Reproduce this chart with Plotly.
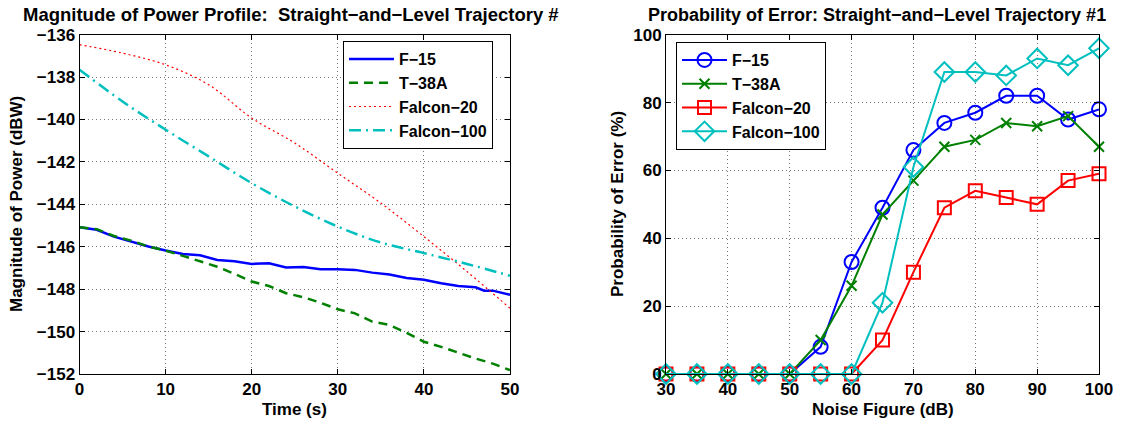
import plotly.graph_objects as go

# ---------------- Left chart data ----------------
t_f15 = [0, 2, 4, 6, 8, 10, 12, 14, 16, 18, 20, 22, 24, 26, 28, 30, 32, 34, 36, 38, 40, 42, 44, 46, 47, 48, 50]
p_f15 = [-145.08, -145.20, -145.52, -145.75, -145.99, -146.18, -146.34, -146.40, -146.62, -146.68, -146.81,
         -146.78, -146.98, -146.96, -147.06, -147.06, -147.09, -147.22, -147.31, -147.47, -147.56, -147.72,
         -147.85, -147.91, -148.07, -148.07, -148.27]
t_t38 = [0, 2, 4, 6, 8, 10, 12, 14, 16, 18, 20, 22, 24, 26, 28, 30, 32, 34, 36, 38, 40, 42, 44, 46, 48, 50]
p_t38 = [-145.08, -145.17, -145.49, -145.71, -145.99, -146.18, -146.43, -146.70, -146.94, -147.28, -147.64,
         -147.85, -148.19, -148.38, -148.64, -148.95, -149.14, -149.53, -149.69, -150.06, -150.48, -150.72,
         -151.00, -151.27, -151.51, -151.82]
t_f20 = [0, 5, 10, 15, 20, 25, 30, 35, 40, 45, 50]
p_f20 = [-136.47, -136.87, -137.42, -138.36, -139.93, -141.11, -142.53, -143.94, -145.52, -147.17, -148.90]
t_f100 = [0, 5, 10, 15, 20, 25, 30, 35, 40, 45, 50]
p_f100 = [-137.65, -139.15, -140.48, -141.74, -143.00, -144.10, -145.05, -145.80, -146.30, -146.81, -147.37]

# ---------------- Right chart data ----------------
noise_fig = [30, 35, 40, 45, 50, 55, 60, 65, 70, 75, 80, 85, 90, 95, 100]
pe_f15 = [0, 0, 0, 0, 0, 8, 33, 49, 66, 74, 77, 82, 82, 75, 78]
pe_t38 = [0, 0, 0, 0, 0, 10, 26, 47, 57, 67, 69, 74, 73, 76, 67]
pe_f20 = [0, 0, 0, 0, 0, 0, 0, 10, 30, 49, 54, 52, 50, 57, 59]
pe_f100 = [0, 0, 0, 0, 0, 0, 0, 21, 61, 89, 89, 88, 93, 91, 96]

names = ["F−15", "T−38A", "Falcon−20", "Falcon−100"]
BLUE, GREEN, RED, CYAN = "#0000FF", "#008000", "#FF0000", "#00BFBF"

W, H = 1130, 424
FONT = "Liberation Sans, Arial, Helvetica, sans-serif"

fig = go.Figure()

# Left traces
fig.add_trace(go.Scatter(x=t_f15, y=p_f15, mode="lines", name=names[0],
                         line=dict(color=BLUE, width=2.5), xaxis="x", yaxis="y", legend="legend"))
fig.add_trace(go.Scatter(x=t_t38, y=p_t38, mode="lines", name=names[1],
                         line=dict(color=GREEN, width=2.5, dash="9px,6px"), xaxis="x", yaxis="y", legend="legend"))
fig.add_trace(go.Scatter(x=t_f20, y=p_f20, mode="lines", name=names[2],
                         line=dict(color=RED, width=1.2, dash="2px,3px", shape="spline"), xaxis="x", yaxis="y", legend="legend"))
fig.add_trace(go.Scatter(x=t_f100, y=p_f100, mode="lines", name=names[3],
                         line=dict(color=CYAN, width=2.5, dash="12px,5px,2px,5px", shape="spline"), xaxis="x", yaxis="y", legend="legend"))

# Right traces
fig.add_trace(go.Scatter(x=noise_fig, y=pe_f15, mode="lines+markers", name=names[0], cliponaxis=False,
                         line=dict(color=BLUE, width=2),
                         marker=dict(symbol="circle-open", color=BLUE, size=14, line=dict(width=2)),
                         xaxis="x2", yaxis="y2", legend="legend2"))
fig.add_trace(go.Scatter(x=noise_fig, y=pe_t38, mode="lines+markers", name=names[1], cliponaxis=False,
                         line=dict(color=GREEN, width=2),
                         marker=dict(symbol="x-thin-open", color=GREEN, size=10, line=dict(width=2, color=GREEN)),
                         xaxis="x2", yaxis="y2", legend="legend2"))
fig.add_trace(go.Scatter(x=noise_fig, y=pe_f20, mode="lines+markers", name=names[2], cliponaxis=False,
                         line=dict(color=RED, width=2),
                         marker=dict(symbol="square-open", color=RED, size=13, line=dict(width=2)),
                         xaxis="x2", yaxis="y2", legend="legend2"))
fig.add_trace(go.Scatter(x=noise_fig, y=pe_f100, mode="lines+markers", name=names[3], cliponaxis=False,
                         line=dict(color=CYAN, width=2),
                         marker=dict(symbol="diamond-open", color=CYAN, size=15, line=dict(width=2)),
                         xaxis="x2", yaxis="y2", legend="legend2"))

def px_x(p):
    return p / W

def px_y(p):
    return 1 - p / H

axis_common = dict(showline=True, linecolor="black", linewidth=1, mirror="ticks",
                   ticks="inside", ticklen=5, tickcolor="black", tickwidth=1,
                   showgrid=True, gridcolor="#777777", griddash="1px,3px", gridwidth=1,
                   zeroline=False, automargin=False,
                   tickfont=dict(family=FONT, size=17, color="black", weight="bold"))

fig.update_layout(
    width=W, height=H, margin=dict(l=0, r=0, t=0, b=0, pad=0),
    paper_bgcolor="white", plot_bgcolor="white",
    font=dict(family=FONT, color="black"),
    xaxis=dict(domain=[px_x(79.5), px_x(510)], range=[0, 50], dtick=10, anchor="y", **axis_common),
    yaxis=dict(domain=[px_y(374), px_y(34.7)], range=[-152, -136], dtick=2, anchor="x", **axis_common),
    xaxis2=dict(domain=[px_x(666), px_x(1099)], range=[30, 100], dtick=10, anchor="y2", **axis_common),
    yaxis2=dict(domain=[px_y(374), px_y(34.7)], range=[0, 100], dtick=20, anchor="x2", **axis_common),
    legend=dict(x=px_x(343), y=px_y(41), xanchor="left", yanchor="top", itemwidth=45,
                bordercolor="black", borderwidth=1, bgcolor="white", tracegroupgap=0,
                font=dict(family=FONT, size=16, color="black", weight="bold")),
    legend2=dict(x=px_x(676), y=px_y(42), xanchor="left", yanchor="top", itemwidth=45,
                 bordercolor="black", borderwidth=1, bgcolor="white",
                 font=dict(family=FONT, size=16, color="black", weight="bold")),
    annotations=[
        dict(text="Magnitude of Power Profile:\u00a0\u00a0Straight−and−Level Trajectory #",
             xref="paper", yref="paper", x=px_x(21), y=px_y(15), xanchor="left", yanchor="middle",
             showarrow=False, font=dict(family=FONT, size=18.5, color="black", weight="bold")),
        dict(text="Probability of Error: Straight−and−Level Trajectory #1",
             xref="paper", yref="paper", x=px_x(877), y=px_y(15), xanchor="center", yanchor="middle",
             showarrow=False, font=dict(family=FONT, size=18, color="black", weight="bold")),
        dict(text="Time (s)", xref="paper", yref="paper", x=px_x(294.5), y=px_y(409),
             xanchor="center", yanchor="middle", showarrow=False,
             font=dict(family=FONT, size=17, color="black", weight="bold")),
        dict(text="Noise Figure (dB)", xref="paper", yref="paper", x=px_x(882.5), y=px_y(409),
             xanchor="center", yanchor="middle", showarrow=False,
             font=dict(family=FONT, size=17, color="black", weight="bold")),
        dict(text="Magnitude of Power (dBW)", xref="paper", yref="paper", x=px_x(16), y=px_y(204),
             xanchor="center", yanchor="middle", showarrow=False, textangle=-90,
             font=dict(family=FONT, size=17, color="black", weight="bold")),
        dict(text="Probability of Error (%)", xref="paper", yref="paper", x=px_x(617), y=px_y(204),
             xanchor="center", yanchor="middle", showarrow=False, textangle=-90,
             font=dict(family=FONT, size=17, color="black", weight="bold")),
    ],
)

fig.write_html("out.html")
